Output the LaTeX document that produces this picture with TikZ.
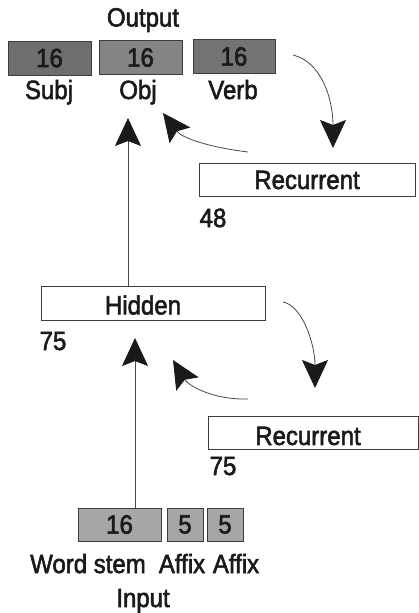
\documentclass[tikz,border=0pt]{standalone}
\usepackage{fontspec}
\setmainfont{Liberation Sans}
\usetikzlibrary{arrows.meta}
\definecolor{ink}{HTML}{1A1A1A}
\definecolor{outA}{HTML}{6E6E6E}
\definecolor{outB}{HTML}{848484}
\definecolor{outC}{HTML}{747474}
\definecolor{inF}{HTML}{A6A6A6}
\newcommand{\tx}[1]{\scalebox{1}[1.1]{\special{pdf:literal direct 2 Tr 0.55 w}#1\special{pdf:literal direct 0 Tr}}}
\tikzset{
  lab/.style={font=\fontsize{24}{28}\selectfont, text=ink, inner sep=0pt},
  box/.style={lab, draw=ink!85, line width=0.8pt, minimum height=34pt},
  arr/.style={draw=ink!80, line width=0.8pt, -{Stealth[length=28pt,width=26pt,inset=5pt,color=ink,fill=ink]}}
}
\begin{document}
\begin{tikzpicture}[x=1pt,y=-1pt]
\useasboundingbox (0,0) rectangle (419,613);
% output layer
\node[lab, anchor=base] (outlab) at (143,26.5) {\tx{Output}};
\node[box, fill=outA, minimum width=83pt] (subj) at (49.5,58) {\tx{16}};
\node[box, fill=outB, minimum width=83pt] (obj) at (140.5,57.5) {\tx{16}};
\node[box, fill=outC, minimum width=82pt] (verb) at (234,56.5) {\tx{16}};
\node[lab, anchor=base] (subjlab) at (49,99) {\tx{Subj}};
\node[lab, anchor=base] (objlab) at (138,99) {\tx{Obj}};
\node[lab, anchor=base] (verblab) at (233,99) {\tx{Verb}};
% top recurrent
\node[box, fill=white, minimum width=216pt, minimum height=33pt] (rec1) at (307,180) {\tx{Recurrent}};
\node[lab, anchor=base] (n48) at (213,227) {\tx{48}};
% hidden
\node[box, fill=white, minimum width=224pt] (hidden) at (153,303) {};
\node[lab] (hiddentext) at (143,305) {\tx{Hidden}};
\node[lab, anchor=base] (n75a) at (53,350) {\tx{75}};
% bottom recurrent
\node[box, fill=white, minimum width=210pt, minimum height=33pt] (rec2) at (313,432.5) {};
\node[lab] (rec2text) at (308,436) {\tx{Recurrent}};
\node[lab, anchor=base] (n75b) at (223,475) {\tx{75}};
% input
\node[box, fill=inF, minimum width=83pt, minimum height=33pt] (stem) at (119.5,524.5) {\tx{16}};
\node[box, fill=inF, minimum width=36pt, minimum height=33pt] (affa) at (185,524.5) {\tx{5}};
\node[box, fill=inF, minimum width=36pt, minimum height=33pt] (affb) at (225,524.5) {\tx{5}};
\node[lab, anchor=base] (stemlab) at (88,573) {\tx{Word stem}};
\node[lab, anchor=base] (affalab) at (182,573) {\tx{Affix}};
\node[lab, anchor=base] (affblab) at (236,573) {\tx{Affix}};
\node[lab, anchor=base] (inlab) at (143,607) {\tx{Input}};
% connector coordinates
\coordinate (t1) at (128,118);
\coordinate (t2) at (135,338);
\coordinate (s1) at (293,55);
\coordinate (e1) at (333,148);
\coordinate (s2) at (248,152);
\coordinate (e2) at (163,113);
\coordinate (s3) at (283,302);
\coordinate (e3) at (315,388);
\coordinate (s4) at (248,399);
\coordinate (e4) at (173,360);
% connectors
\draw[arr] (t1 |- hidden.north) -- (t1);
\draw[arr] (t2 |- stem.north) -- (t2);
\draw[arr] (s1) .. controls (322,62) and (333,100) .. (e1);
\draw[arr] (s2) .. controls (208,147) and (182,138) .. (e2);
\draw[arr] (s3) .. controls (303,306) and (315,345) .. (e3);
\draw[arr] (s4) .. controls (212,400) and (188,385) .. (e4);
\end{tikzpicture}
\end{document}
